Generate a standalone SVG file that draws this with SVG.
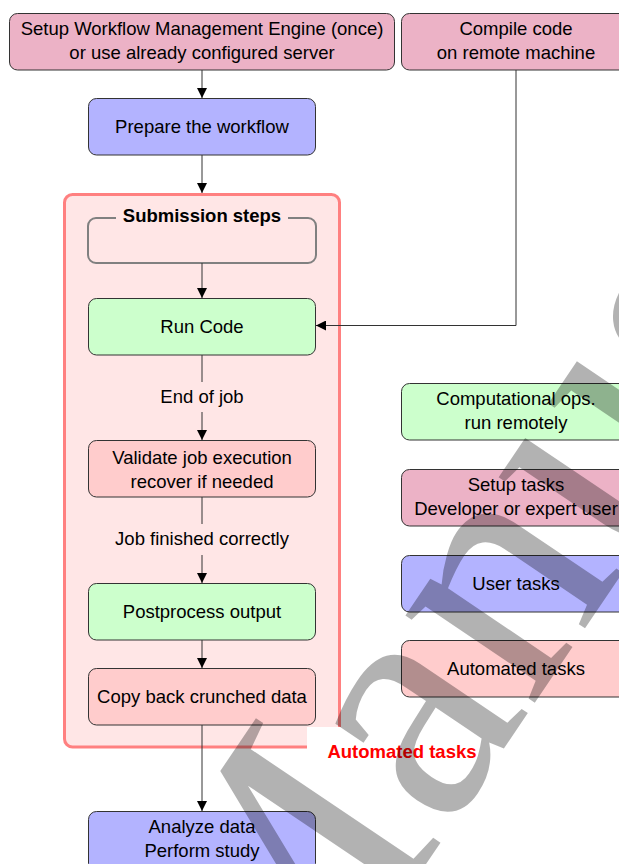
<svg xmlns="http://www.w3.org/2000/svg" width="619" height="864" viewBox="0 0 619 864">
<defs>
<marker id="arr" viewBox="0 0 10 10" refX="10" refY="5" markerWidth="10" markerHeight="10" markerUnits="userSpaceOnUse" orient="auto">
<path d="M0,0 L10,5 L0,10 Z" fill="#000"/>
</marker>
<style>
.n{stroke:#333;stroke-width:1;}
.pink{fill:#ecb2c6;}
.blue{fill:#b3b3ff;}
.green{fill:#ccffcc;}
.red{fill:#ffcccc;}
text{font-family:"Liberation Sans",Arial,sans-serif;font-size:18.5px;fill:#000;text-anchor:middle;}
.b{font-weight:bold;}
.conn{stroke:#333;stroke-width:1;fill:none;}
.wm{font-family:"Liberation Serif","Times New Roman",serif;font-size:340px;fill:#000;fill-opacity:0.3;text-anchor:start;}
</style>
</defs>
<g id="container">
<rect x="64.5" y="194.5" width="275" height="552.5" rx="8" fill="#ffe6e6" stroke="#ff8080" stroke-width="3"/>
</g>
<g id="submission">
<rect x="88" y="218" width="228" height="45" rx="8" fill="none" stroke="#808080" stroke-width="2"/>
<rect x="116" y="205" width="172" height="24" fill="#ffe6e6"/>
<text x="202" y="222" class="b">Submission steps</text>
</g>
<g id="connectors">
<line class="conn" x1="202" y1="70" x2="202" y2="98" marker-end="url(#arr)"/>
<line class="conn" x1="202" y1="155" x2="202" y2="193" marker-end="url(#arr)"/>
<line class="conn" x1="202" y1="263" x2="202" y2="298" marker-end="url(#arr)"/>
<line class="conn" x1="202" y1="355" x2="202" y2="382"/>
<line class="conn" x1="202" y1="412" x2="202" y2="440" marker-end="url(#arr)"/>
<line class="conn" x1="202" y1="497" x2="202" y2="524"/>
<line class="conn" x1="202" y1="555" x2="202" y2="583" marker-end="url(#arr)"/>
<line class="conn" x1="202" y1="640" x2="202" y2="668" marker-end="url(#arr)"/>
<line class="conn" x1="202" y1="725" x2="202" y2="811" marker-end="url(#arr)"/>
<polyline class="conn" points="516,70 516,325.5 316,325.5" stroke="#000" marker-end="url(#arr)"/>
<text x="202" y="403">End of job</text>
<text x="202" y="545">Job finished correctly</text>
</g>
<g id="setup-wme">
<rect class="n pink" x="9.5" y="13.5" width="385" height="56.5" rx="8"/>
<text x="202" y="35">Setup Workflow Management Engine (once)</text>
<text x="202" y="59">or use already configured server</text>
</g>
<g id="compile">
<rect class="n pink" x="401.5" y="13.5" width="240" height="56.5" rx="8"/>
<text x="516" y="35">Compile code</text>
<text x="516" y="59">on remote machine</text>
</g>
<g id="prepare">
<rect class="n blue" x="88.5" y="98.5" width="227" height="56.5" rx="8"/>
<text x="202" y="133">Prepare the workflow</text>
</g>
<g id="run">
<rect class="n green" x="88.5" y="298.5" width="227" height="56.5" rx="8"/>
<text x="202" y="333">Run Code</text>
</g>
<g id="validate">
<rect class="n red" x="88.5" y="440.5" width="227" height="56.5" rx="8"/>
<text x="202" y="464">Validate job execution</text>
<text x="202" y="488">recover if needed</text>
</g>
<g id="postprocess">
<rect class="n green" x="88.5" y="583.5" width="227" height="56.5" rx="8"/>
<text x="202" y="618">Postprocess output</text>
</g>
<g id="copyback">
<rect class="n red" x="88.5" y="668.5" width="227" height="56.5" rx="8"/>
<text x="202" y="703">Copy back crunched data</text>
</g>
<g id="analyze">
<rect class="n blue" x="88.5" y="811.5" width="227" height="60" rx="8"/>
<text x="202" y="833">Analyze data</text>
<text x="202" y="857">Perform study</text>
</g>
<g id="automated-label">
<rect x="307" y="727" width="190" height="50" fill="#fff"/>
<text x="402" y="758" class="b" style="fill:#ff0000">Automated tasks</text>
</g>
<g id="legend-comp">
<rect class="n green" x="401.5" y="383.5" width="240" height="56.5" rx="8"/>
<text x="516" y="405">Computational ops.</text>
<text x="516" y="429">run remotely</text>
</g>
<g id="legend-setup">
<rect class="n pink" x="401.5" y="469.5" width="240" height="56.5" rx="8"/>
<text x="516" y="491">Setup tasks</text>
<text x="516" y="515">Developer or expert user</text>
</g>
<g id="legend-user">
<rect class="n blue" x="401.5" y="555.5" width="240" height="56.5" rx="8"/>
<text x="516" y="590">User tasks</text>
</g>
<g id="legend-auto">
<rect class="n red" x="401.5" y="640.5" width="240" height="56.5" rx="8"/>
<text x="516" y="675">Automated tasks</text>
</g>
<g id="watermark">
<text class="wm" x="277" y="1085" transform="rotate(-56 277 1085)">Manuscript</text>
</g>
</svg>
